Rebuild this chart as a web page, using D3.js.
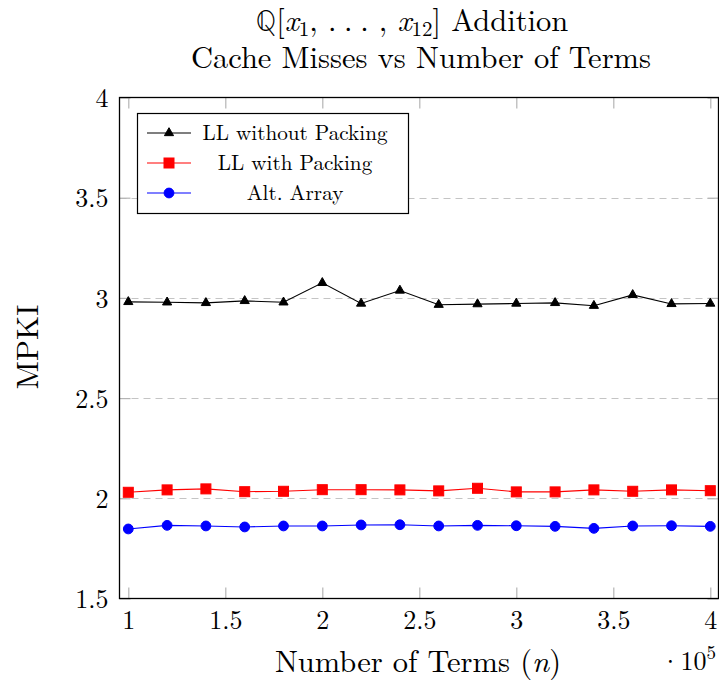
<!DOCTYPE html>
<html>
<head>
<meta charset="utf-8">
<script src="https://cdn.jsdelivr.net/npm/d3@7"></script>
<style>
  html, body { margin: 0; padding: 0; background: #fff; }
  svg { display: block; }
  text { font-family: "Latin Modern Roman", "CMU Serif", "Liberation Serif", serif; fill: #000; }
  .math { font-style: italic; }
  .bb { font-family: "Latin Modern Math", "DejaVu Serif", serif; font-style: normal; }
</style>
</head>
<body>
<svg id="chart" width="719" height="680"></svg>
<script>
// Number of terms (in units of 10^5)
const terms = [1, 1.2, 1.4, 1.6, 1.8, 2, 2.2, 2.4, 2.6, 2.8, 3, 3.2, 3.4, 3.6, 3.8, 4];

// MPKI per implementation
const llWithoutPacking = [2.98, 2.978, 2.975, 2.985, 2.978, 3.075, 2.972, 3.037, 2.966, 2.969, 2.972, 2.975, 2.961, 3.015, 2.97, 2.972];
const llWithPacking    = [2.03, 2.042, 2.047, 2.033, 2.035, 2.043, 2.043, 2.042, 2.037, 2.05, 2.032, 2.032, 2.042, 2.035, 2.042, 2.038];
const altArray         = [1.847, 1.865, 1.862, 1.857, 1.862, 1.862, 1.867, 1.868, 1.862, 1.865, 1.863, 1.86, 1.85, 1.862, 1.863, 1.86];

const seriesNames = ["LL without Packing", "LL with Packing", "Alt. Array"];
const xTicks = [1, 1.5, 2, 2.5, 3, 3.5, 4];
const xTickLabels = ["1", "1.5", "2", "2.5", "3", "3.5", "4"];
const yTicks = [1.5, 2, 2.5, 3, 3.5, 4];
const yTickLabels = ["1.5", "2", "2.5", "3", "3.5", "4"];

const svg = d3.select("#chart");

// plot frame
const frame = { left: 119.5, right: 718.5, top: 97.5, bottom: 598.5 };
const x = d3.scaleLinear().domain([1, 4]).range([128.3, 710.3]);
const y = d3.scaleLinear().domain([1.5, 4]).range([frame.bottom, frame.top]);

// horizontal dashed grid
svg.append("g")
  .selectAll("line")
  .data(yTicks.filter(v => v > 1.5 && v < 4))
  .join("line")
  .attr("x1", frame.left).attr("x2", frame.right)
  .attr("y1", d => Math.round(y(d)) + 0.5).attr("y2", d => Math.round(y(d)) + 0.5)
  .attr("stroke", "#c4c4c4").attr("stroke-width", 1).attr("stroke-dasharray", "7,5");

// axes: gray ticks drawn inward on all four sides
const tickLen = 11;
const axisBottom = d3.axisBottom(x).tickValues(xTicks).tickSize(-tickLen).tickFormat((d, i) => xTickLabels[i]).tickPadding(6);
const axisTop = d3.axisTop(x).tickValues(xTicks).tickSize(-tickLen).tickFormat("");
const axisLeft = d3.axisLeft(y).tickValues(yTicks).tickSize(-tickLen).tickFormat((d, i) => yTickLabels[i]).tickPadding(11);
const axisRight = d3.axisRight(y).tickValues(yTicks).tickSize(-tickLen).tickFormat("");

function styleAxis(g) {
  g.attr("font-family", null).attr("font-size", null);
  g.select(".domain").remove();
  g.selectAll(".tick line").attr("stroke", "#b4b4b4").attr("stroke-width", 1.2);
  g.selectAll(".tick text").attr("font-size", 26).attr("fill", "#000");
}
svg.append("g").attr("transform", `translate(0,${frame.bottom})`).call(axisBottom).call(styleAxis)
  .selectAll(".tick text").attr("dy", "0.95em");
svg.append("g").attr("transform", `translate(0,${frame.top})`).call(axisTop).call(styleAxis);
svg.append("g").attr("transform", `translate(${frame.left},0)`).call(axisLeft).call(styleAxis)
  .selectAll(".tick text").attr("dy", "0.35em");
svg.append("g").attr("transform", `translate(${frame.right},0)`).call(axisRight).call(styleAxis);

// frame
svg.append("rect")
  .attr("x", frame.left).attr("y", frame.top)
  .attr("width", frame.right - frame.left).attr("height", frame.bottom - frame.top)
  .attr("fill", "none").attr("stroke", "#000").attr("stroke-width", 1.3);

// series
const series = [
  { name: seriesNames[0], values: llWithoutPacking, color: "#000000", mark: "triangle" },
  { name: seriesNames[1], values: llWithPacking, color: "#ff0000", mark: "square" },
  { name: seriesNames[2], values: altArray, color: "#0000ff", mark: "circle" }
];

const line = d3.line().x(d => x(d[0])).y(d => y(d[1]));

function drawMark(g, type, color, cx, cy) {
  if (type === "triangle") {
    const r = 5.3;
    g.append("path")
      .attr("d", `M0,${-r} L${r * 0.866},${r * 0.5} L${-r * 0.866},${r * 0.5} Z`)
      .attr("transform", `translate(${cx},${cy})`)
      .attr("fill", color).attr("stroke", color).attr("stroke-width", 1);
  } else if (type === "square") {
    g.append("rect")
      .attr("x", cx - 5).attr("y", cy - 5).attr("width", 10).attr("height", 10)
      .attr("fill", color).attr("stroke", color).attr("stroke-width", 1);
  } else {
    g.append("circle")
      .attr("cx", cx).attr("cy", cy).attr("r", 4.9)
      .attr("fill", color).attr("stroke", color).attr("stroke-width", 1);
  }
}

series.forEach(s => {
  const pts = terms.map((t, i) => [t, s.values[i]]);
  const g = svg.append("g");
  g.append("path").datum(pts).attr("d", line)
    .attr("fill", "none").attr("stroke", s.color).attr("stroke-width", 1.1);
  pts.forEach(p => drawMark(g, s.mark, s.color, x(p[0]), y(p[1])));
});

// legend
const legend = svg.append("g");
legend.append("rect")
  .attr("x", 137.5).attr("y", 113.5).attr("width", 271).attr("height", 100)
  .attr("fill", "#fff").attr("stroke", "#000").attr("stroke-width", 1.2);
series.forEach((s, i) => {
  const ly = 133 + i * 30;
  legend.append("line").attr("x1", 147).attr("x2", 191).attr("y1", ly).attr("y2", ly)
    .attr("stroke", s.color).attr("stroke-width", 1.1);
  drawMark(legend, s.mark, s.color, 169, ly);
  legend.append("text").attr("x", 295).attr("y", ly + 7)
    .attr("text-anchor", "middle").attr("font-size", 21.2).text(s.name);
});

// titles
const t1 = svg.append("text").attr("x", 412).attr("y", 31).attr("text-anchor", "middle").attr("font-size", 30.5);
t1.append("tspan").attr("class", "bb").text("ℚ");
t1.append("tspan").text("[");
t1.append("tspan").attr("class", "math").text("x");
t1.append("tspan").attr("font-size", 21).attr("dy", 5).text("1");
t1.append("tspan").attr("dy", -5).text(", .\u2005.\u2005. , ");
t1.append("tspan").attr("class", "math").text("x");
t1.append("tspan").attr("font-size", 21).attr("dy", 5).text("12");
t1.append("tspan").attr("dy", -5).text("] Addition");

svg.append("text").attr("x", 421).attr("y", 68).attr("text-anchor", "middle")
  .attr("font-size", 30.5).text("Cache Misses vs Number of Terms");

// axis labels
const xl = svg.append("text").attr("x", 418).attr("y", 672).attr("text-anchor", "middle").attr("font-size", 30.5);
xl.append("tspan").text("Number of Terms (");
xl.append("tspan").attr("class", "math").text("n");
xl.append("tspan").text(")");

svg.append("text")
  .attr("transform", "translate(38,347) rotate(-90)")
  .attr("text-anchor", "middle").attr("font-size", 31).text("MPKI");

// scale factor of the x axis
const ex = svg.append("text").attr("x", 716).attr("y", 670).attr("text-anchor", "end").attr("font-size", 26);
ex.append("tspan").text("·10");
ex.append("tspan").attr("font-size", 19).attr("dy", -11).text("5");
</script>
</body>
</html>
